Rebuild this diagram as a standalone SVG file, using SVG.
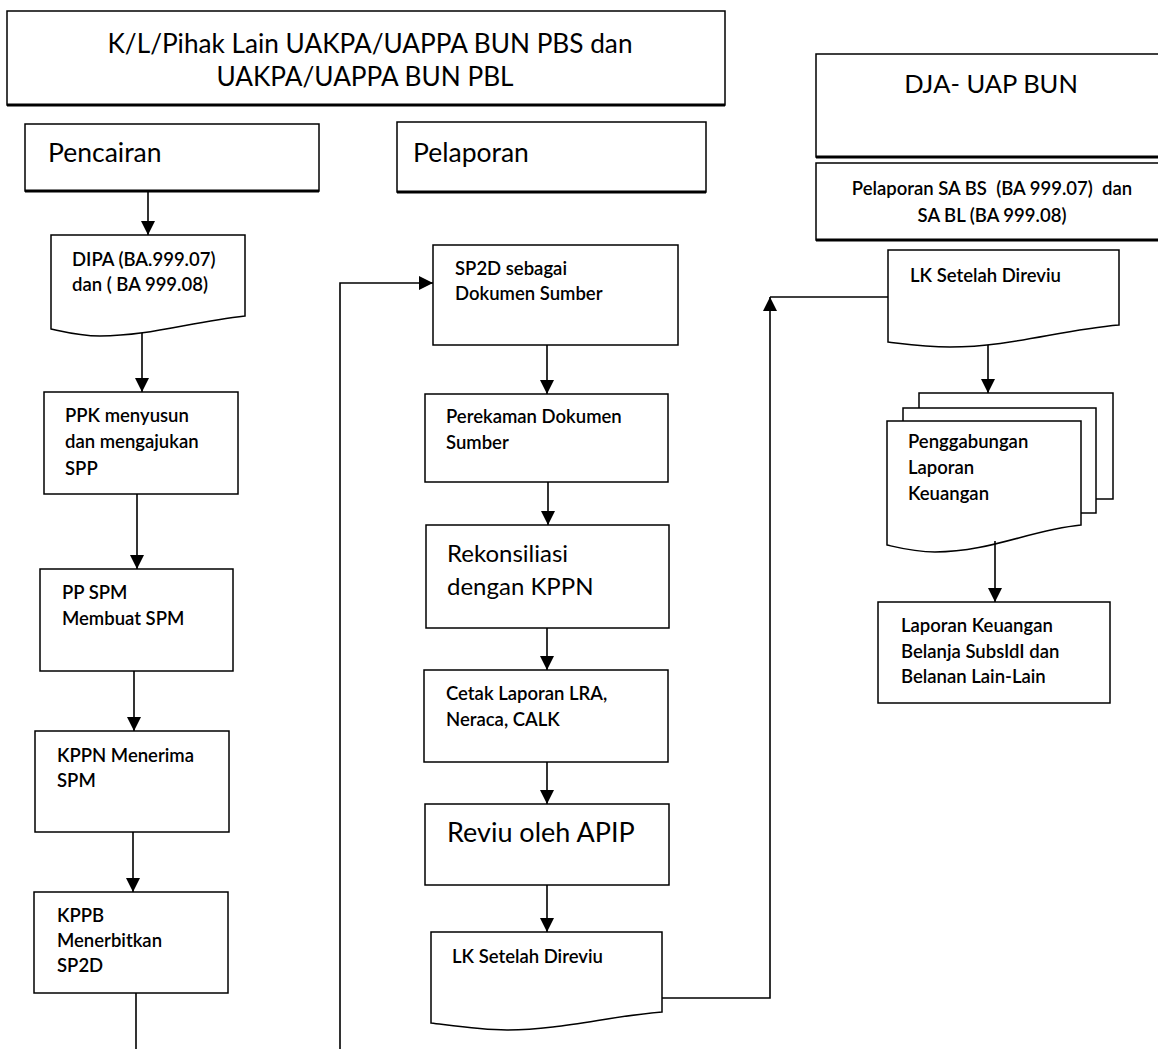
<svg xmlns="http://www.w3.org/2000/svg" width="1158" height="1049" viewBox="0 0 1158 1049">
<style>
.box{fill:#fff;stroke:#000;stroke-width:1.5}
.thick{stroke:#000;stroke-width:3}
.conn{fill:none;stroke:#000;stroke-width:1.6}
text{font-family:Lato,"Liberation Sans",sans-serif;fill:#000}
.big{font-size:27px}
.mid{font-size:24px}
.sm{font-size:18.5px;font-weight:600}
.pre{white-space:pre}
</style>
<defs>
<marker id="ah" markerUnits="userSpaceOnUse" markerWidth="14" markerHeight="14" refX="14" refY="7" orient="auto">
<path d="M0,0 L14,7 L0,14 z" fill="#000"/>
</marker>
</defs>
<rect width="1158" height="1049" fill="#fff"/>

<g id="header">
<rect class="box" x="7" y="11" width="718" height="94"/>
<line class="thick" x1="7" y1="105" x2="725" y2="105"/>
<text class="big" x="370" y="53" text-anchor="middle" style="font-size:26.2px">K/L/Pihak Lain UAKPA/UAPPA BUN PBS dan</text>
<text class="big" x="365" y="86" text-anchor="middle" style="font-size:26.2px">UAKPA/UAPPA BUN PBL</text>
</g>

<g id="pencairan">
<rect class="box" x="25" y="124" width="294" height="67"/>
<line class="thick" x1="25" y1="191" x2="319" y2="191"/>
<text class="big" x="48" y="162" style="font-size:26.5px">Pencairan</text>
</g>

<g id="pelaporan">
<rect class="box" x="397" y="122" width="309" height="70"/>
<line class="thick" x1="397" y1="192" x2="706" y2="192"/>
<text class="big" x="413" y="162" style="font-size:26.5px">Pelaporan</text>
</g>

<g id="dipa">
<path class="box" d="M51,235 H245 V316 C190,322 150,336 100,336 C80,336 65,332 51,329 Z"/>
<text class="sm" x="72" y="266">DIPA (BA.999.07)</text>
<text class="sm" x="72" y="291">dan ( BA 999.08)</text>
</g>

<g id="ppk">
<rect class="box" x="44" y="392" width="194" height="102"/>
<text class="sm" x="65" y="422">PPK menyusun</text>
<text class="sm" x="65" y="448">dan mengajukan</text>
<text class="sm" x="65" y="475">SPP</text>
</g>

<g id="ppspm">
<rect class="box" x="40" y="569" width="193" height="102"/>
<text class="sm" x="62" y="599">PP SPM</text>
<text class="sm" x="62" y="625">Membuat SPM</text>
</g>

<g id="kppn">
<rect class="box" x="35" y="731" width="194" height="101"/>
<text class="sm" x="57" y="762">KPPN Menerima</text>
<text class="sm" x="57" y="787">SPM</text>
</g>

<g id="kppb">
<rect class="box" x="34" y="892" width="194" height="101"/>
<text class="sm" x="57" y="922">KPPB</text>
<text class="sm" x="57" y="947">Menerbitkan</text>
<text class="sm" x="57" y="972">SP2D</text>
</g>

<g id="sp2d">
<rect class="box" x="433" y="245" width="245" height="100"/>
<text class="sm" x="455" y="275">SP2D sebagai</text>
<text class="sm" x="455" y="300">Dokumen Sumber</text>
</g>

<g id="perekaman">
<rect class="box" x="425" y="394" width="243" height="88"/>
<text class="sm" x="446" y="423">Perekaman Dokumen</text>
<text class="sm" x="446" y="449">Sumber</text>
</g>

<g id="rekonsiliasi">
<rect class="box" x="426" y="525" width="243" height="103"/>
<text class="mid" x="447" y="562">Rekonsiliasi</text>
<text class="mid" x="447" y="595">dengan KPPN</text>
</g>

<g id="cetak">
<rect class="box" x="424" y="670" width="244" height="92"/>
<text class="sm" x="446" y="700">Cetak Laporan LRA,</text>
<text class="sm" x="446" y="726">Neraca, CALK</text>
</g>

<g id="reviu">
<rect class="box" x="425" y="804" width="244" height="81"/>
<text class="big" x="447" y="842">Reviu oleh APIP</text>
</g>

<g id="lk1">
<path class="box" d="M431,932 H662 V1012 C610,1016 560,1030 507,1030 C480,1030 455,1026 431,1023 Z"/>
<text class="sm" x="452" y="963">LK Setelah Direviu</text>
</g>

<g id="dja">
<rect class="box" x="816" y="54" width="360" height="103"/>
<line class="thick" x1="816" y1="157" x2="1158" y2="157"/>
<text class="big" x="991" y="93" text-anchor="middle" style="font-size:25.5px">DJA- UAP BUN</text>
</g>

<g id="pelaporan-sa">
<rect class="box" x="816" y="163" width="360" height="77"/>
<line class="thick" x1="816" y1="240" x2="1158" y2="240"/>
<text class="sm pre" x="992" y="195" text-anchor="middle">Pelaporan SA BS  (BA 999.07)  dan</text>
<text class="sm" x="992" y="222" text-anchor="middle">SA BL (BA 999.08)</text>
</g>

<g id="lk2">
<path class="box" d="M888,250 H1119 V325 C1060,330 1010,347 950,347 C925,347 905,344 888,342 Z"/>
<text class="sm" x="910" y="282">LK Setelah Direviu</text>
</g>

<g id="penggabungan">
<rect class="box" x="919" y="393" width="194" height="106"/>
<rect class="box" x="903" y="408" width="193" height="105"/>
<path class="box" d="M887,421 H1081 V525 C1030,530 990,552 935,552 C915,552 900,548 887,545 Z"/>
<text class="sm" x="908" y="448">Penggabungan</text>
<text class="sm" x="908" y="474">Laporan</text>
<text class="sm" x="908" y="500">Keuangan</text>
</g>

<g id="laporan-keuangan">
<rect class="box" x="878" y="602" width="232" height="101"/>
<text class="sm" x="901" y="632">Laporan Keuangan</text>
<text class="sm" x="901" y="658">Belanja SubsIdI dan</text>
<text class="sm" x="901" y="683">Belanan Lain-Lain</text>
</g>

<g id="connectors">
<path class="conn" d="M148,191 V235" marker-end="url(#ah)"/>
<path class="conn" d="M142,333 V392" marker-end="url(#ah)"/>
<path class="conn" d="M137,494 V569" marker-end="url(#ah)"/>
<path class="conn" d="M134,671 V731" marker-end="url(#ah)"/>
<path class="conn" d="M133,832 V892" marker-end="url(#ah)"/>
<path class="conn" d="M136,993 V1049"/>
<path class="conn" d="M340,1049 V283 H433" marker-end="url(#ah)"/>
<path class="conn" d="M547,345 V394" marker-end="url(#ah)"/>
<path class="conn" d="M548,482 V525" marker-end="url(#ah)"/>
<path class="conn" d="M547,628 V670" marker-end="url(#ah)"/>
<path class="conn" d="M547,762 V804" marker-end="url(#ah)"/>
<path class="conn" d="M547,885 V932" marker-end="url(#ah)"/>
<path class="conn" d="M662,998 H770 V297" marker-end="url(#ah)"/>
<path class="conn" d="M770,297 H888"/>
<path class="conn" d="M988,345 V393" marker-end="url(#ah)"/>
<path class="conn" d="M995,541 V602" marker-end="url(#ah)"/>
</g>
</svg>
